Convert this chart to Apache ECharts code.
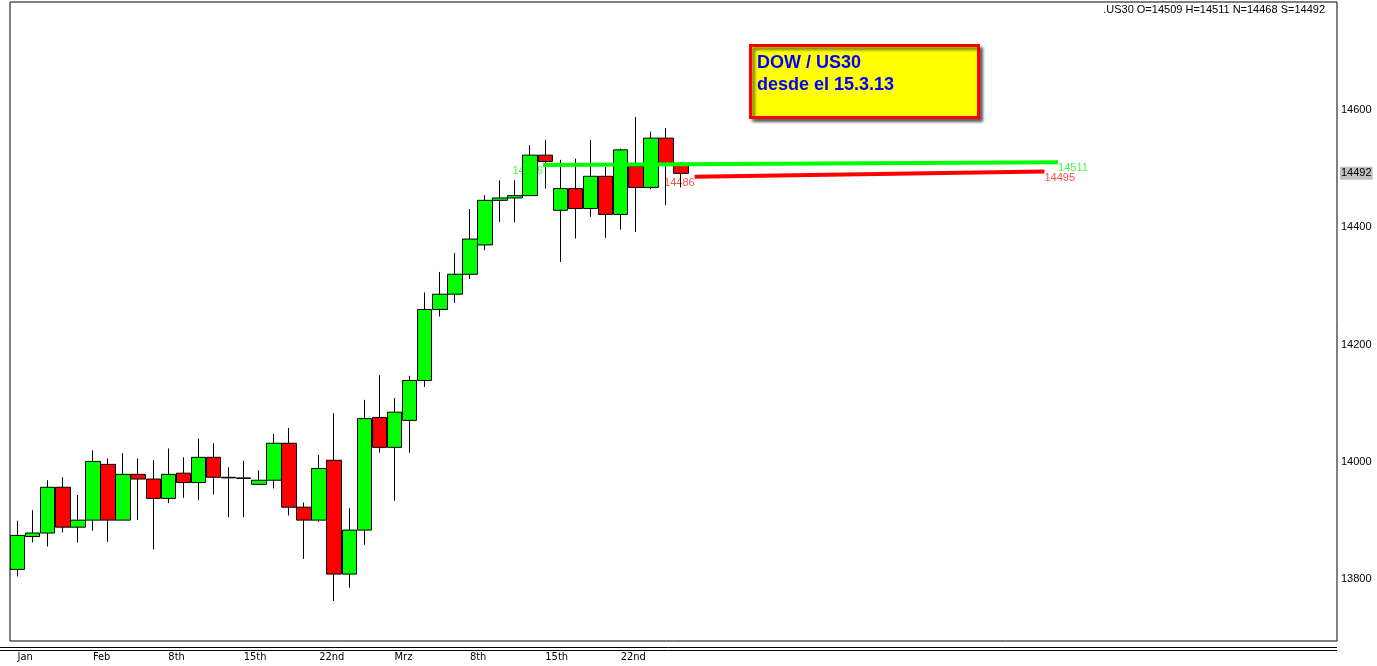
<!DOCTYPE html>
<html><head><meta charset="utf-8">
<script src="https://cdn.jsdelivr.net/npm/echarts/dist/echarts.min.js"></script>
<style>html,body{margin:0;padding:0;background:#fff}#c{width:1377px;height:666px}</style>
</head><body><div id="c"></div>
<script>
const symbolName = '.US30';
const dates = ['2013-01-25','2013-01-28','2013-01-29','2013-01-30','2013-01-31','2013-02-01',
  '2013-02-04','2013-02-05','2013-02-06','2013-02-07','2013-02-08',
  '2013-02-11','2013-02-12','2013-02-13','2013-02-14','2013-02-15',
  '2013-02-18','2013-02-19','2013-02-20','2013-02-21','2013-02-22',
  '2013-02-25','2013-02-26','2013-02-27','2013-02-28','2013-03-01',
  '2013-03-04','2013-03-05','2013-03-06','2013-03-07','2013-03-08',
  '2013-03-11','2013-03-12','2013-03-13','2013-03-14','2013-03-15',
  '2013-03-18','2013-03-19','2013-03-20','2013-03-21','2013-03-22',
  '2013-03-25','2013-03-26','2013-03-27','2013-03-28'];
const opens  = [13817,13873,13879,13957,13889,13901,13996,13901,13979,13971,13938,13981,13965,14008,13974,
                13973,13962,13969,14032,13923,13901,14003,13809,13884,14076,14025,14071,14139,14260,14286,
                14320,14370,14446,14450,14454,14523,14429,14466,14432,14487,14422,14504,14468,14552,14509];
const highs  = [13900,13918,13969,13974,13944,14020,14006,14015,14006,14003,14023,14008,14040,14032,13991,
                14002,13986,14048,14058,13931,14012,14083,13921,14106,14148,14109,14147,14289,14324,14356,
                14431,14455,14480,14480,14540,14549,14515,14517,14549,14503,14534,14588,14563,14569,14511];
const lows   = [13805,13863,13856,13880,13863,13883,13864,13901,13901,13851,13930,13939,13935,13945,13906,
                13906,13962,13955,13909,13835,13898,13763,13786,13859,14016,13934,14016,14128,14248,14271,
                14312,14361,14409,14409,14454,14466,14341,14381,14418,14382,14396,14392,14465,14438,14468];
const closes = [13875,13879,13957,13889,13901,14001,13901,13979,13971,13938,13979,13965,14008,13974,13973,
                13972,13969,14032,13923,13901,13989,13809,13884,14074,14025,14085,14139,14260,14286,14320,
                14380,14446,14450,14454,14523,14512,14466,14432,14487,14422,14532,14468,14552,14509,14492];
const tickIndex  = [0,5,10,15,20,25,30,35,40];
const tickLabels = ['Jan','Feb','8th','15th','22nd','Mrz','8th','15th','22nd'];
const yTicks = [13800,14000,14200,14400,14600];
const totalSlots = 88;
const greenTrendX = [34.85, 69.0];
const greenTrendY = [14506, 14511];
const redTrendX = [44.9, 68.1];
const redTrendY = [14486, 14495];
const noteLines = ['DOW / US30', 'desde el 15.3.13'];

const cats = dates.slice();
for (let i = dates.length; i < totalSlots; i++) cats.push('pad' + i);
const labelMap = {};
tickIndex.forEach((k, j) => { labelMap[k] = tickLabels[j]; });
const candleData = dates.map((d, i) => [opens[i], closes[i], lows[i], highs[i]]);
const last = dates.length - 1;
const FONT = '"Liberation Sans", Arial, sans-serif';

function trendLabels(xs, ys, color) {
  return [
    {value: [xs[0], ys[0]], label: {show: true, position: 'bottom', distance: 0, align: 'right', color: color, formatter: String(ys[0])}},
    {value: [xs[1], ys[1]], label: {show: true, position: 'bottom', distance: 0, align: 'left', color: color, formatter: String(ys[1])}}
  ];
}

const chart = echarts.init(document.getElementById('c'), null, {renderer: 'canvas'});
chart.setOption({
  animation: false,
  backgroundColor: '#fff',
  title: {
    text: `${symbolName} O=${opens[last]} H=${highs[last]} N=${lows[last]} S=${closes[last]}`,
    right: 52, top: 4, padding: 0,
    textStyle: {fontSize: 11, fontWeight: 'normal', color: '#000', fontFamily: FONT}
  },
  grid: {left: 10, right: 40, top: 2, bottom: 25, show: true, borderColor: '#000', borderWidth: 1, backgroundColor: '#fff'},
  xAxis: [
    {type: 'category', data: cats, boundaryGap: true,
     axisLine: {show: false}, axisTick: {show: false}, splitLine: {show: false},
     axisLabel: {interval: 0, margin: 11, align: 'left', fontSize: 11, color: '#000',
       fontFamily: '"Liberation Sans Narrow", "Arial Narrow", "DejaVu Sans Condensed", sans-serif',
       formatter: (v, i) => labelMap[i] || ''}},
    {type: 'value', min: -0.5, max: totalSlots - 0.5, show: false}
  ],
  yAxis: {
    type: 'value', position: 'right', min: 13695, max: 14784,
    axisLine: {show: false}, axisTick: {show: false}, splitLine: {show: false},
    axisLabel: {customValues: yTicks, margin: 4, fontSize: 11, color: '#000', fontFamily: FONT,
      formatter: v => String(v)}
  },
  series: [
    {type: 'scatter', xAxisIndex: 1, symbolSize: 1, itemStyle: {color: 'transparent'}, z: 1, silent: true,
     label: {fontSize: 11, fontFamily: FONT},
     data: trendLabels(greenTrendX, greenTrendY, '#22ee22').concat(trendLabels(redTrendX, redTrendY, '#ff2020'))},
    {type: 'candlestick', data: candleData, barWidth: 15, z: 2,
     itemStyle: {color: '#00ff00', color0: '#ff0000', borderColor: '#000', borderColor0: '#000', borderColorDoji: '#000', borderWidth: 1}},
    {type: 'line', xAxisIndex: 1, data: greenTrendX.map((x, i) => [x, greenTrendY[i]]), symbol: 'none', z: 5,
     lineStyle: {color: '#00ff00', width: 4}},
    {type: 'line', xAxisIndex: 1, data: redTrendX.map((x, i) => [x, redTrendY[i]]), symbol: 'none', z: 5,
     lineStyle: {color: '#ff0000', width: 4},
     markLine: {silent: true, symbol: ['none', 'none'], data: [{yAxis: closes[last]}],
       lineStyle: {color: 'rgba(0,0,0,0)', width: 0, type: 'solid'},
       label: {show: true, position: 'end', distance: 3, formatter: String(closes[last]), backgroundColor: '#c0c0c0',
         color: '#000', fontSize: 11, fontFamily: FONT, padding: [1, 1, 1, 1]}}}
  ],
  graphic: [
    {type: 'line', z: 50, shape: {x1: 0, y1: 647.5, x2: 1337, y2: 647.5}, style: {stroke: '#000', lineWidth: 1}},
    {type: 'line', z: 50, shape: {x1: 0, y1: 650.5, x2: 1337, y2: 650.5}, style: {stroke: '#000', lineWidth: 1}},
    {type: 'rect', z: 100, shape: {x: 750.5, y: 45.5, width: 228, height: 72},
     style: {fill: '#ffff00', stroke: '#ff0000', lineWidth: 3, shadowBlur: 3, shadowColor: 'rgba(0,0,0,0.55)', shadowOffsetX: 3, shadowOffsetY: 3}},
    {type: 'text', z: 101, x: 757, y: 52,
     style: {text: noteLines.join('\n'), font: 'bold 18px "Liberation Sans", Arial, sans-serif', fill: '#0000ff', lineHeight: 22}}
  ]
});
</script></body></html>
